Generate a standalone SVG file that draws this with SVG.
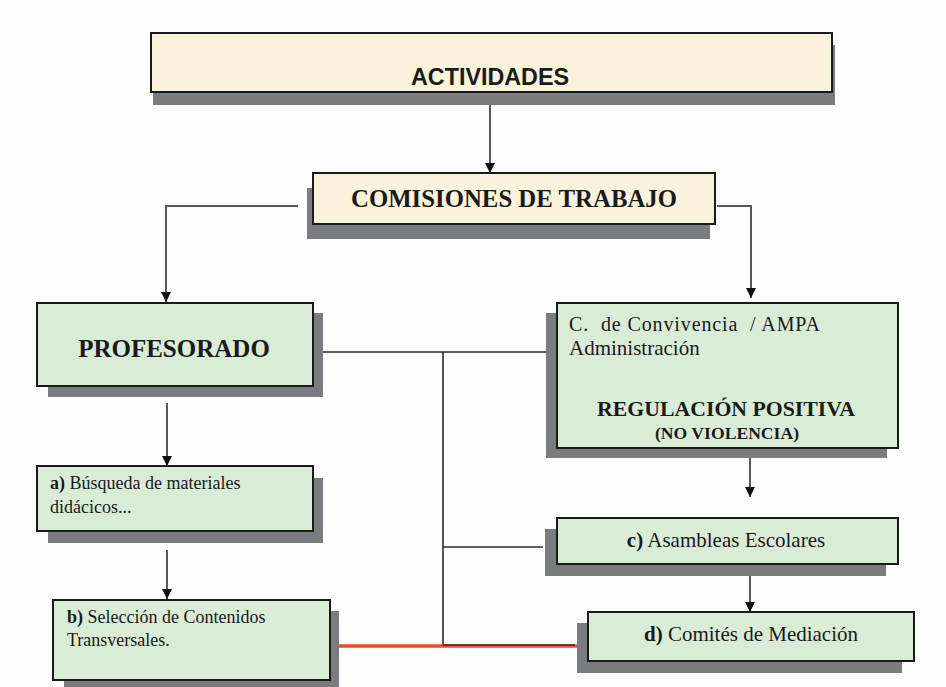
<svg xmlns="http://www.w3.org/2000/svg" width="946" height="687" viewBox="0 0 946 687">
<defs>
<style>
.shadow{fill:#7a7c7f}
.cream{fill:#f8f3da;stroke:#1a1a1a;stroke-width:2}
.green{fill:#d9ecd6;stroke:#1a1a1a;stroke-width:2}
.conn{fill:none;stroke:#5a5a5a;stroke-width:2}
.blk{fill:none;stroke:#2a2a2a;stroke-width:1.6}
.serif{font-family:"Liberation Serif","Times New Roman",serif;fill:#1a1a1a}
.sans{font-family:"Liberation Sans",Arial,sans-serif;fill:#1a1a1a}
</style>
<marker id="arr" markerUnits="userSpaceOnUse" markerWidth="12" markerHeight="10" refX="10" refY="5" orient="auto">
<path d="M0,0 L10,5 L0,10 Z" fill="#111"/>
</marker>
</defs>
<rect width="946" height="687" fill="#fdfdfd"/>

<g id="connectors">
<line class="conn" x1="490" y1="105" x2="490" y2="173" marker-end="url(#arr)"/>
<polyline class="conn" points="298,206 166,206 166,302" marker-end="url(#arr)"/>
<polyline class="conn" points="717,206 751,206 751,298" marker-end="url(#arr)"/>
<line class="conn" x1="167" y1="403" x2="167" y2="466" marker-end="url(#arr)"/>
<line class="conn" x1="167" y1="550" x2="167" y2="599" marker-end="url(#arr)"/>
<line class="conn" x1="750" y1="458" x2="750" y2="497" marker-end="url(#arr)"/>
<line class="conn" x1="750" y1="564" x2="750" y2="612" marker-end="url(#arr)"/>
<line class="blk" x1="313" y1="352" x2="557" y2="352"/>
<line class="blk" x1="443" y1="352" x2="443" y2="646"/>
<line class="blk" x1="443" y1="547" x2="543" y2="547"/>
<line x1="339" y1="646" x2="578" y2="646" stroke="#e2512b" stroke-width="3.5"/>
<line x1="443" y1="645" x2="575" y2="645" stroke="#3a2a26" stroke-width="1.5"/>
</g>

<g id="actividades">
<rect class="shadow" x="153" y="45" width="682" height="60"/>
<rect class="cream" x="151" y="33" width="681" height="59"/>
<text class="sans" x="490" y="85" font-size="24" font-weight="bold" text-anchor="middle" textLength="158" lengthAdjust="spacingAndGlyphs">ACTIVIDADES</text>
</g>

<g id="comisiones">
<rect class="shadow" x="307" y="188" width="403" height="51"/>
<rect class="cream" x="313" y="173" width="402" height="51"/>
<text class="serif" x="514" y="207" font-size="25" font-weight="bold" text-anchor="middle" textLength="326" lengthAdjust="spacingAndGlyphs">COMISIONES DE TRABAJO</text>
</g>

<g id="profesorado">
<rect class="shadow" x="48" y="313" width="275" height="84"/>
<rect class="green" x="37" y="303" width="276" height="83"/>
<text class="serif" x="174" y="357" font-size="25" font-weight="bold" text-anchor="middle">PROFESORADO</text>
</g>

<g id="convivencia">
<rect class="shadow" x="546" y="313" width="341" height="145"/>
<rect class="green" x="557" y="303" width="341" height="145"/>
<text class="serif" x="569" y="331" font-size="20" xml:space="preserve" textLength="251" lengthAdjust="spacing">C.  de Convivencia  / AMPA</text>
<text class="serif" x="569" y="355" font-size="21">Administración</text>
<text class="serif" x="726" y="416" font-size="21" font-weight="bold" text-anchor="middle" textLength="258" lengthAdjust="spacingAndGlyphs">REGULACIÓN POSITIVA</text>
<text class="serif" x="727" y="439" font-size="16" font-weight="bold" text-anchor="middle" textLength="144" lengthAdjust="spacingAndGlyphs">(NO VIOLENCIA)</text>
</g>

<g id="busqueda">
<rect class="shadow" x="48" y="478" width="275" height="65"/>
<rect class="green" x="37" y="466" width="276" height="65"/>
<text class="serif" x="50" y="489" font-size="18"><tspan font-weight="bold">a)</tspan> Búsqueda de materiales</text>
<text class="serif" x="50" y="513" font-size="18">didácicos...</text>
</g>

<g id="seleccion">
<rect class="shadow" x="64" y="611" width="275" height="80"/>
<rect class="green" x="53" y="600" width="277" height="80"/>
<text class="serif" x="67" y="623" font-size="18"><tspan font-weight="bold">b)</tspan> Selección de Contenidos</text>
<text class="serif" x="67" y="646" font-size="18">Transversales.</text>
</g>

<g id="asambleas">
<rect class="shadow" x="545" y="529" width="341" height="47"/>
<rect class="green" x="557" y="518" width="341" height="46"/>
<text class="serif" x="726" y="547" font-size="21" text-anchor="middle"><tspan font-weight="bold">c)</tspan> Asambleas Escolares</text>
</g>

<g id="mediacion">
<rect class="shadow" x="577" y="623" width="325" height="50"/>
<rect class="green" x="588" y="612" width="326" height="49"/>
<text class="serif" x="751" y="641" font-size="21" text-anchor="middle"><tspan font-weight="bold">d)</tspan> Comités de Mediación</text>
</g>
</svg>
